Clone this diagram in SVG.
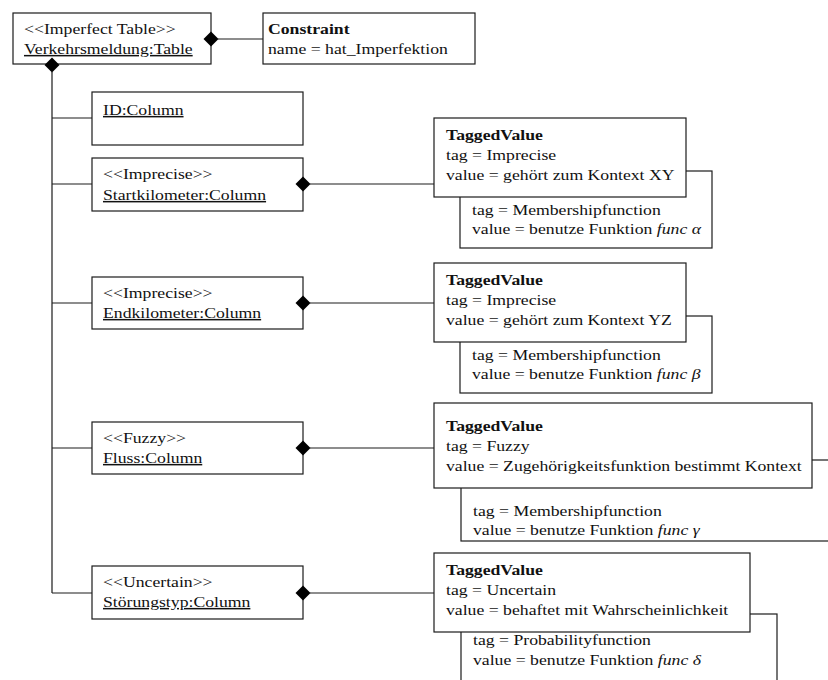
<svg xmlns="http://www.w3.org/2000/svg" xmlns:xlink="http://www.w3.org/1999/xlink" width="828" height="680" viewBox="0 0 828 680">
  <style>
    .box { fill: #fff; stroke: #1c1c1c; stroke-width: 1.2; }
    .ln { fill: none; stroke: #1c1c1c; stroke-width: 1.2; }
    .dia { fill: #000; }
    text { font-family: "Liberation Serif", "Times New Roman", serif; font-size: 15px; fill: #111;
           transform-box: fill-box; transform-origin: 0 0; transform: scaleX(1.18); }
    .b { font-weight: bold; }
    .u { text-decoration: underline; }
    .i { font-style: italic; }
  </style>
  <defs>
    <path id="dmd" class="dia" d="M-7.5,0 L0,-7.5 L7.5,0 L0,7.5 Z"/>
  </defs>
  <rect width="828" height="680" fill="#fff"/>

  <!-- table -->
  <g id="table">
    <rect class="box" x="13" y="13" width="198" height="51"/>
    <text x="24" y="34">&lt;&lt;Imperfect Table&gt;&gt;</text>
    <text x="24" y="54" class="u">Verkehrsmeldung:Table</text>
  </g>

  <g id="constraint">
    <rect class="box" x="263" y="13" width="212" height="51"/>
    <text x="268" y="34" class="b">Constraint</text>
    <text x="268" y="54">name = hat_Imperfektion</text>
  </g>

  <!-- columns -->
  <g id="col-id">
    <rect class="box" x="92" y="92" width="211" height="53"/>
    <text x="103" y="115" class="u">ID:Column</text>
  </g>
  <g id="col-start">
    <rect class="box" x="92" y="158" width="211" height="53"/>
    <text x="103" y="179">&lt;&lt;Imprecise&gt;&gt;</text>
    <text x="103" y="200" class="u">Startkilometer:Column</text>
  </g>
  <g id="col-end">
    <rect class="box" x="92" y="277" width="211" height="52"/>
    <text x="103" y="298">&lt;&lt;Imprecise&gt;&gt;</text>
    <text x="103" y="318" class="u">Endkilometer:Column</text>
  </g>
  <g id="col-fluss">
    <rect class="box" x="92" y="422" width="211" height="52"/>
    <text x="103" y="443">&lt;&lt;Fuzzy&gt;&gt;</text>
    <text x="103" y="463" class="u">Fluss:Column</text>
  </g>
  <g id="col-stoerung">
    <rect class="box" x="92" y="566" width="211" height="53"/>
    <text x="103" y="587">&lt;&lt;Uncertain&gt;&gt;</text>
    <text x="103" y="607" class="u">Störungstyp:Column</text>
  </g>

  <!-- tagged values: second value box behind, first in front -->
  <g id="tv-start">
    <rect class="box" x="460" y="171" width="252" height="77"/>
    <text x="472" y="215">tag = Membershipfunction</text>
    <text x="472" y="234">value = benutze Funktion <tspan class="i">func α</tspan></text>
    <rect class="box" x="434" y="118" width="252" height="79"/>
    <text x="446" y="140" class="b">TaggedValue</text>
    <text x="446" y="160">tag = Imprecise</text>
    <text x="446" y="180">value = gehört zum Kontext XY</text>
  </g>
  <g id="tv-end">
    <rect class="box" x="460" y="316" width="252" height="77"/>
    <text x="472" y="360">tag = Membershipfunction</text>
    <text x="472" y="379">value = benutze Funktion <tspan class="i">func β</tspan></text>
    <rect class="box" x="434" y="263" width="252" height="79"/>
    <text x="446" y="285" class="b">TaggedValue</text>
    <text x="446" y="305">tag = Imprecise</text>
    <text x="446" y="325">value = gehört zum Kontext YZ</text>
  </g>
  <g id="tv-fluss">
    <rect class="box" x="461" y="460" width="380" height="81"/>
    <text x="473" y="516">tag = Membershipfunction</text>
    <text x="473" y="535">value = benutze Funktion <tspan class="i">func γ</tspan></text>
    <rect class="box" x="434" y="403" width="378" height="85"/>
    <text x="446" y="431" class="b">TaggedValue</text>
    <text x="446" y="451">tag = Fuzzy</text>
    <text x="446" y="471">value = Zugehörigkeitsfunktion bestimmt Kontext</text>
  </g>
  <g id="tv-stoerung">
    <rect class="box" x="461" y="614" width="316" height="80"/>
    <text x="473" y="645">tag = Probabilityfunction</text>
    <text x="473" y="665">value = benutze Funktion <tspan class="i">func δ</tspan></text>
    <rect class="box" x="434" y="553" width="316" height="79"/>
    <text x="446" y="575" class="b">TaggedValue</text>
    <text x="446" y="595">tag = Uncertain</text>
    <text x="446" y="615">value = behaftet mit Wahrscheinlichkeit</text>
  </g>

  <!-- connectors: composition lines with filled diamonds at the owner side -->
  <g id="connectors">
    <path class="ln" d="M52,72 V593 M52,118 H92 M52,184 H92 M52,303 H92 M52,448 H92 M52,593 H92"/>
    <path class="ln" d="M218,39 H263"/>
    <path class="ln" d="M310,184 H434 M310,303 H434 M310,448 H434 M310,593 H434"/>
    <use xlink:href="#dmd" x="211" y="39"/>
    <use xlink:href="#dmd" x="52" y="65"/>
    <use xlink:href="#dmd" x="303" y="184"/>
    <use xlink:href="#dmd" x="303" y="303"/>
    <use xlink:href="#dmd" x="303" y="448"/>
    <use xlink:href="#dmd" x="303" y="593"/>
  </g>
</svg>
